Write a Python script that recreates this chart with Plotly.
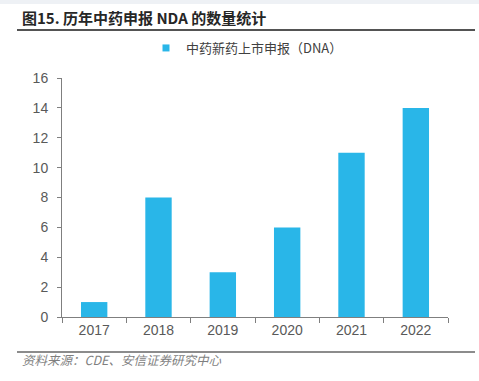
import plotly.graph_objects as go

years = ["2017", "2018", "2019", "2020", "2021", "2022"]
counts = [1, 8, 3, 6, 11, 14]
series_name = "中药新药上市申报（DNA）"
title_text = "图15. 历年中药申报 NDA 的数量统计"
source_text = "资料来源：CDE、安信证券研究中心"

W, H = 479, 381
L, R, T, B = 62, 31, 78, 64
pw, ph = W - L - R, H - T - B

def px(x):
    return (x - L) / pw

def py(y):
    return (H - B - y) / ph

bar_color = "#29B6E8"
font_family = "Noto Sans CJK SC, Liberation Sans, Arial, sans-serif"

fig = go.Figure()
fig.add_trace(go.Bar(
    x=years, y=counts, name=series_name, showlegend=False,
    marker=dict(color=bar_color, line=dict(width=0)),
    width=0.41,
))
# legend proxy with small square symbol
fig.add_trace(go.Scatter(
    x=[None], y=[None], mode="markers", name=series_name,
    marker=dict(symbol="square", size=7, color=bar_color),
    showlegend=True,
))

fig.update_layout(
    width=W, height=H,
    margin=dict(l=L, r=R, t=T, b=B, pad=0),
    paper_bgcolor="white", plot_bgcolor="white",
    font=dict(family=font_family, color="#595959", size=13),
    showlegend=True,
    legend=dict(
        orientation="h", x=px(247), xanchor="center", y=py(48), yanchor="middle",
        font=dict(size=13, color="#404040"),
        itemwidth=30, tracegroupgap=0,
        bgcolor="rgba(0,0,0,0)",
    ),
    xaxis=dict(
        showline=True, linecolor="#7f7f7f", linewidth=1,
        ticks="outside", tickson="boundaries", ticklen=5, tickcolor="#7f7f7f",
        tickfont=dict(size=14, color="#595959", family="Liberation Sans, Arial, sans-serif"),
        showgrid=False, zeroline=False,
    ),
    yaxis=dict(
        range=[0, 16], dtick=2,
        showline=True, linecolor="#7f7f7f", linewidth=1,
        ticks="outside", ticklen=4, tickcolor="#7f7f7f",
        tickfont=dict(size=14, color="#595959", family="Liberation Sans, Arial, sans-serif"),
        showgrid=False, zeroline=False,
        ticklabelstandoff=6,
    ),
)

# top light band
fig.add_shape(type="rect", xref="paper", yref="paper",
              x0=px(0), x1=px(W), y0=py(4), y1=py(0),
              fillcolor="#eef1f5", line=dict(width=0), layer="below")

# title
fig.add_annotation(xref="paper", yref="paper", x=px(20), y=py(17),
                   xanchor="left", yanchor="middle", showarrow=False,
                   text="<b>" + title_text + "</b>",
                   font=dict(size=15, color="#262626", family=font_family))
# title underline
fig.add_shape(type="line", xref="paper", yref="paper",
              x0=px(17), x1=px(475), y0=py(30), y1=py(30),
              line=dict(color="#1a1a1a", width=1.5))
# footer line
fig.add_shape(type="line", xref="paper", yref="paper",
              x0=px(17), x1=px(475), y0=py(352), y1=py(352),
              line=dict(color="#1a1a1a", width=1.2))
# source
fig.add_annotation(xref="paper", yref="paper", x=px(20), y=py(359),
                   xanchor="left", yanchor="middle", showarrow=False,
                   text="<i>" + source_text + "</i>",
                   font=dict(size=12.5, color="#7f7f7f", family=font_family))

fig.write_html("out.html", config={"displayModeBar": False},
               post_script="document.body.style.margin='0';document.body.style.overflow='hidden';")
